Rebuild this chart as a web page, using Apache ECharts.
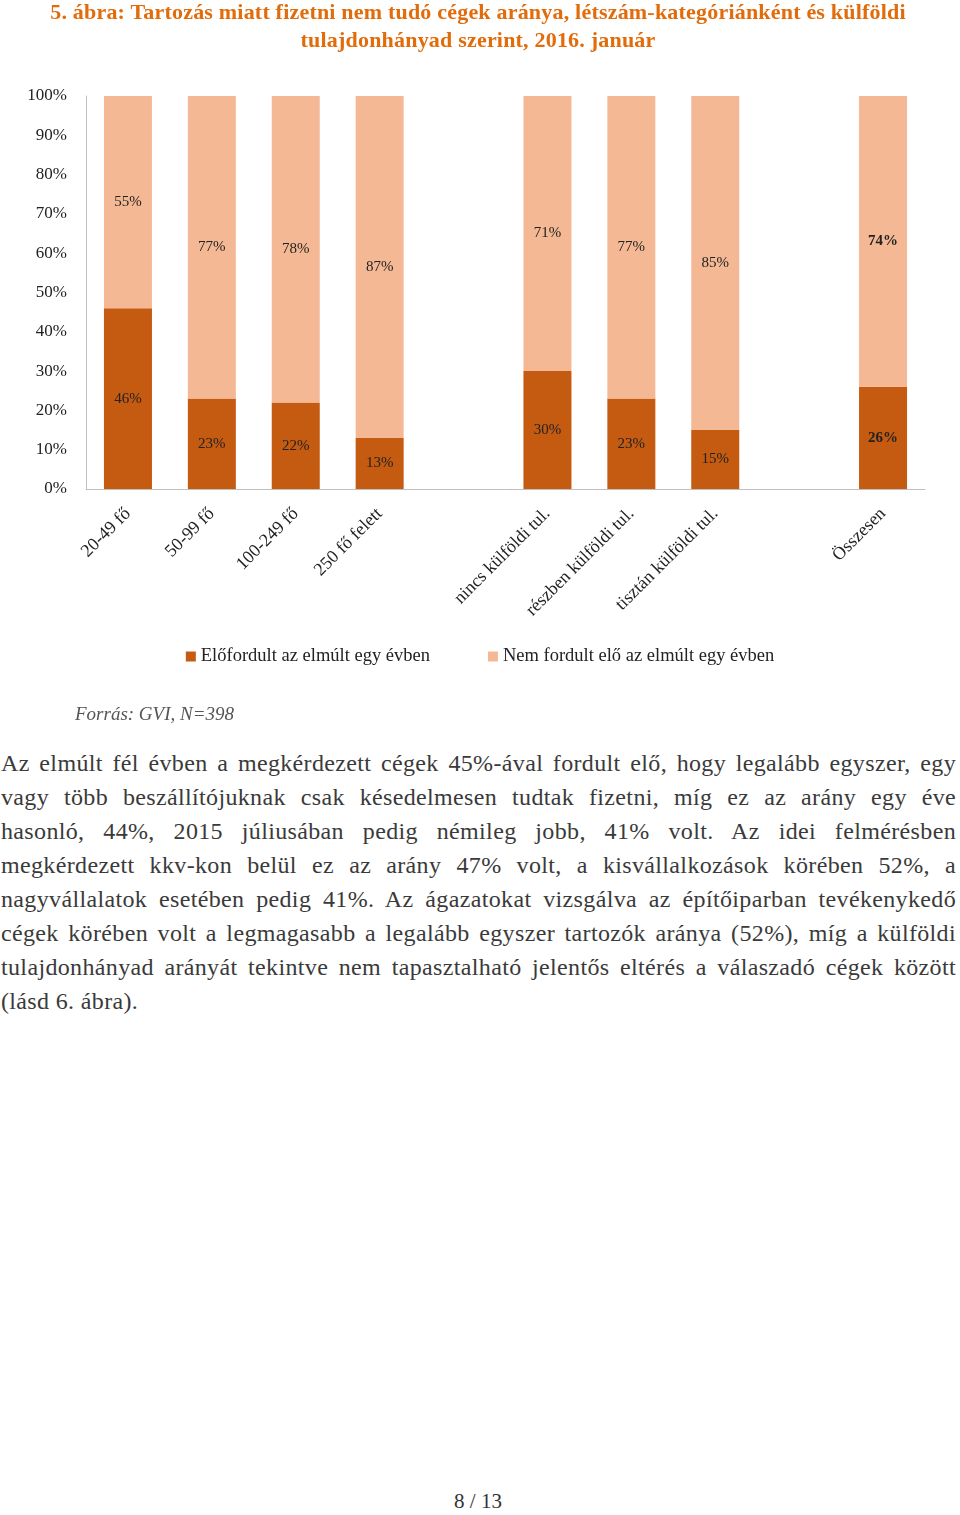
<!DOCTYPE html>
<html>
<head>
<meta charset="utf-8">
<script src="https://cdn.jsdelivr.net/npm/echarts@6/dist/echarts.min.js"></script>
<style>
  html, body { margin: 0; padding: 0; background: #fff; }
  body { width: 960px; height: 1515px; position: relative; overflow: hidden; }
  #chart { position: absolute; left: 0; top: 0; width: 960px; height: 740px; }
  #title {
    position: absolute; left: 0; top: -2px; width: 956px; text-align: center;
    font-family: "Liberation Serif", serif; font-size: 22px; font-weight: bold;
    color: #E26B0A; line-height: 28px; letter-spacing: 0.2px;
  }
  #text {
    position: absolute; left: 1px; top: 746px; width: 955px;
    font-family: "Liberation Serif", serif; font-size: 24px; color: #3a3a3a;
    letter-spacing: 0.35px;
  }
  #text div { height: 34px; line-height: 34px; white-space: nowrap; text-align: justify; text-align-last: justify; }
  #text div.last { text-align-last: left; }
  #page {
    position: absolute; left: 0; width: 956px; top: 1489px; text-align: center;
    font-family: "Liberation Serif", serif; font-size: 21px; color: #333;
  }
</style>
</head>
<body>
<div id="chart"></div>
<div id="title">5. ábra: Tartozás miatt fizetni nem tudó cégek aránya, létszám-kategóriánként és külföldi<br>tulajdonhányad szerint, 2016. január</div>
<div id="text">
  <div>Az elmúlt fél évben a megkérdezett cégek 45%-ával fordult elő, hogy legalább egyszer, egy</div>
  <div>vagy több beszállítójuknak csak késedelmesen tudtak fizetni, míg ez az arány egy éve</div>
  <div>hasonló, 44%, 2015 júliusában pedig némileg jobb, 41% volt. Az idei felmérésben</div>
  <div>megkérdezett kkv-kon belül ez az arány 47% volt, a kisvállalkozások körében 52%, a</div>
  <div>nagyvállalatok esetében pedig 41%. Az ágazatokat vizsgálva az építőiparban tevékenykedő</div>
  <div>cégek körében volt a legmagasabb a legalább egyszer tartozók aránya (52%), míg a külföldi</div>
  <div>tulajdonhányad arányát tekintve nem tapasztalható jelentős eltérés a válaszadó cégek között</div>
  <div class="last">(lásd 6. ábra).</div>
</div>
<div id="page">8 / 13</div>
<script>
// kategóriák (üres helyek a csoportok között)
const categories = ['20-49 fő', '50-99 fő', '100-249 fő', '250 fő felett', '',
  'nincs külföldi tul.', 'részben külföldi tul.', 'tisztán külföldi tul.', '', 'Összesen'];
const seriesNames = ['Előfordult az elmúlt egy évben', 'Nem fordult elő az elmúlt egy évben'];
const occurred = [46, 23, 22, 13, null, 30, 23, 15, null, 26];
const notOccurred = [55, 77, 78, 87, null, 71, 77, 85, null, 74];
const yTicks = [0, 10, 20, 30, 40, 50, 60, 70, 80, 90, 100];

const serif = '"Liberation Serif", "Times New Roman", serif';
const totalIdx = categories.indexOf('Összesen');

function toData(arr) {
  return arr.map((v, i) => i === totalIdx
    ? { value: v, label: { fontWeight: 'bold' } }
    : v);
}

const chart = echarts.init(document.getElementById('chart'));
chart.setOption({
  animation: false,
  legend: {
    top: 642,
    left: 'center',
    itemWidth: 10,
    itemHeight: 10,
    itemGap: 58,
    icon: 'rect',
    textStyle: { fontFamily: serif, fontSize: 18.5, color: '#222' },
    data: seriesNames
  },
  graphic: [{
    type: 'text',
    left: 75,
    top: 705,
    style: {
      text: 'Forrás: GVI, N=398',
      font: 'italic 19px "Liberation Serif", serif',
      fill: '#555'
    }
  }],
  grid: { left: 86, right: 35, top: 96, bottom: 251, containLabel: false },
  xAxis: {
    type: 'category',
    data: categories,
    axisLine: { lineStyle: { color: '#BFBFBF', width: 1 } },
    axisTick: { show: false },
    axisLabel: {
      interval: 0, rotate: 45, margin: 22,
      fontFamily: serif, fontSize: 18, color: '#222'
    }
  },
  yAxis: {
    type: 'value',
    min: yTicks[0],
    max: yTicks[yTicks.length - 1],
    interval: 10,
    axisLine: { show: true, lineStyle: { color: '#BFBFBF' } },
    axisTick: { show: false },
    splitLine: { show: false },
    axisLabel: {
      margin: 19, fontFamily: serif, fontSize: 17, color: '#222',
      formatter: v => v + '%'
    }
  },
  series: [
    {
      name: seriesNames[0],
      type: 'bar',
      stack: 'total',
      barWidth: 48,
      itemStyle: { color: '#C55A11' },
      label: {
        show: true, position: 'inside', formatter: p => p.value + '%',
        fontFamily: serif, fontSize: 15, color: '#222'
      },
      data: toData(occurred)
    },
    {
      name: seriesNames[1],
      type: 'bar',
      stack: 'total',
      barWidth: 48,
      itemStyle: { color: '#F4B994' },
      label: {
        show: true, position: 'inside', formatter: p => p.value + '%',
        fontFamily: serif, fontSize: 15, color: '#222'
      },
      data: toData(notOccurred)
    }
  ]
});
</script>
</body>
</html>
